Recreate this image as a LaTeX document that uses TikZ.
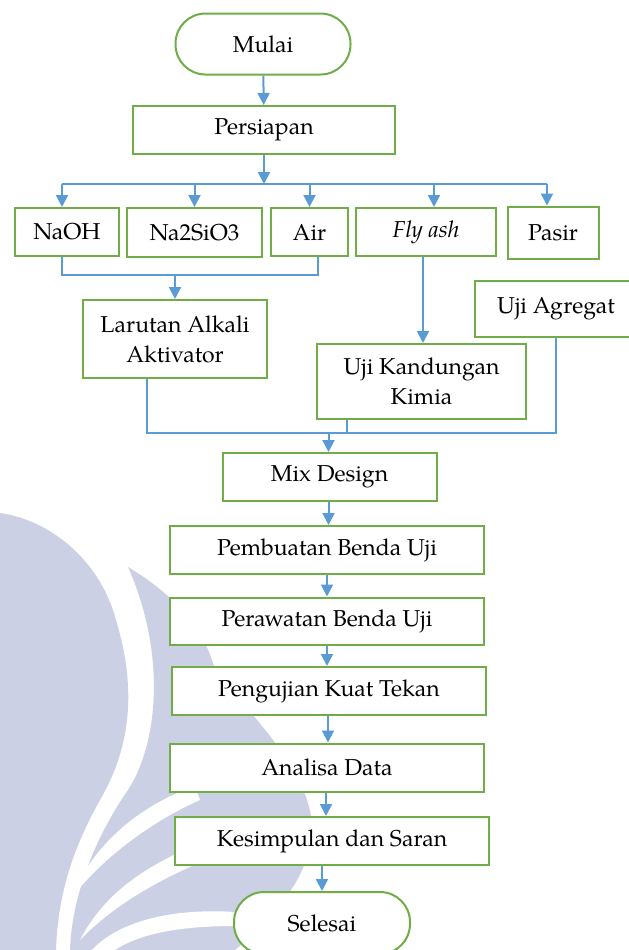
\documentclass[tikz,border=0pt]{standalone}
\usepackage{fontspec}
\setmainfont{TeX Gyre Pagella}
\usetikzlibrary{arrows.meta}
\definecolor{boxgreen}{RGB}{112,173,71}
\definecolor{lineblue}{RGB}{91,155,213}
\definecolor{wmlavender}{RGB}{204,208,228}
\tikzset{>={Triangle[width=6pt,length=6pt]}}
\tikzset{
  box/.style={draw=boxgreen, line width=1pt, fill=white, align=center, inner sep=2pt,
    font=\fontsize{11.5}{15}\selectfont},
  terminal/.style={box, rounded corners=15pt},
  flow/.style={->, draw=lineblue, line width=1pt},
  link/.style={draw=lineblue, line width=1pt}
}

\begin{document}
\begin{tikzpicture}[x=0.5pt,y=-0.5pt]
\useasboundingbox (0,0) rectangle (628,950);
% watermark
\fill[wmlavender] (0,513) .. controls (50,520) and (100,560) .. (116,620)
  .. controls (134,680) and (135,740) .. (100,800)
  .. controls (75,845) and (58,890) .. (56,950) -- (0,950) -- cycle;
\fill[wmlavender] (128,567) .. controls (175,595) and (205,630) .. (215,670)
  .. controls (260,725) and (312,775) .. (312,830)
  .. controls (310,880) and (270,920) .. (235,950) -- (70,950)
  .. controls (72,890) and (100,830) .. (128,790)
  .. controls (160,740) and (165,650) .. (128,567) -- cycle;
\fill[white] (195,786) .. controls (140,805) and (92,845) .. (70,900)
  .. controls (100,860) and (150,822) .. (200,800) -- cycle;
\fill[white] (280,818) .. controls (190,842) and (115,872) .. (80,940)
  .. controls (125,893) and (195,860) .. (282,832) -- cycle;
\fill[white] (236,912) .. controls (175,908) and (118,920) .. (90,952)
  -- (112,952) .. controls (140,932) and (185,926) .. (236,926) -- cycle;

% nodes
\node[terminal, minimum width=87.5pt, minimum height=30.5pt] (mulai) at (263,44) {Mulai};
\node[box, minimum width=131pt, minimum height=24pt] (persiapan) at (264,130) {Persiapan};
\node[box, minimum width=52pt, minimum height=24pt] (naoh) at (67,232) {NaOH};
\node[box, minimum width=67.5pt, minimum height=24.5pt] (nasio) at (194.5,232.5) {Na2SiO3};
\node[box, minimum width=38.5pt, minimum height=24pt] (air) at (309.5,232) {Air};
\node[box, minimum width=70pt, minimum height=24pt] (flyash) at (426,232) {\textit{Fly ash}};
\node[box, minimum width=45.5pt, minimum height=26pt] (pasir) at (553,232.5) {Pasir};
\node[box, minimum width=92pt, minimum height=39pt] (larutan) at (175,339) {Larutan Alkali\\Aktivator};
\node[box, minimum width=81pt, minimum height=28pt] (agregat) at (556,309) {Uji Agregat};
\node[box, minimum width=104.5pt, minimum height=37.5pt] (kimia) at (421.5,381.5) {Uji Kandungan\\Kimia};
\node[box, minimum width=107pt, minimum height=24pt] (mix) at (329.5,477) {Mix Design};
\node[box, minimum width=157pt, minimum height=24pt] (pembuatan) at (327,550) {Pembuatan Benda Uji};
\node[box, minimum width=157pt, minimum height=23.5pt] (perawatan) at (327,621) {Perawatan Benda Uji};
\node[box, minimum width=157pt, minimum height=24pt] (pengujian) at (329,691) {Pengujian Kuat Tekan};
\node[box, minimum width=157pt, minimum height=24pt] (analisa) at (327,767.5) {Analisa Data};
\node[box, minimum width=157pt, minimum height=24pt] (kesimpulan) at (332,841) {Kesimpulan dan Saran};
\node[terminal, minimum width=88pt, minimum height=31pt] (selesai) at (322,923) {Selesai};

% connectors
\coordinate (bus1) at (0,184);
\coordinate (join1) at (0,275);
\coordinate (bus2) at (0,433);
\draw[flow] (mulai) -- (persiapan);
\draw[flow] (persiapan) -- (persiapan |- bus1);
\draw[link] ([xshift=-2.5pt]naoh.north |- bus1) -- ([xshift=-3pt]pasir.north |- bus1);
\draw[flow] ([xshift=-2.5pt]naoh.north |- bus1) -- ([xshift=-2.5pt]naoh.north);
\draw[flow] (nasio |- bus1) -- (nasio);
\draw[flow] (air |- bus1) -- (air);
\draw[flow] ([xshift=4pt]flyash.north |- bus1) -- ([xshift=4pt]flyash.north);
\draw[flow] ([xshift=-3pt]pasir.north |- bus1) -- ([xshift=-3pt]pasir.north);
\draw[link] ([xshift=-2.5pt]naoh.south) -- ([xshift=-2.5pt]naoh.south |- join1)
  -- ([xshift=4pt]air.south |- join1) -- ([xshift=4pt]air.south);
\draw[flow] (larutan |- join1) -- (larutan);
\draw[flow] ([xshift=-1.5pt]flyash.south) -- ([xshift=-1.5pt]flyash.south |- kimia.north);
\draw[link] ([xshift=-14pt]larutan.south) -- ([xshift=-14pt]larutan.south |- bus2)
  -- (agregat.south |- bus2) -- (agregat.south);
\draw[link] ([xshift=-37.5pt]kimia.south) -- ([xshift=-37.5pt]kimia.south |- bus2);
\draw[flow] ([xshift=-0.5pt]mix.north |- bus2) -- ([xshift=-0.5pt]mix.north);
\draw[flow] ([xshift=-0.5pt]mix.south) -- ([xshift=-0.5pt]mix.south |- pembuatan.north);
\draw[flow] (pembuatan.south) -- (pembuatan.south |- perawatan.north);
\draw[flow] (perawatan.south) -- (perawatan.south |- pengujian.north);
\draw[flow] ([xshift=-0.5pt]pengujian.south) -- ([xshift=-0.5pt]pengujian.south |- analisa.north);
\draw[flow] ([xshift=-0.5pt]analisa.south) -- ([xshift=-0.5pt]analisa.south |- kesimpulan.north);
\draw[flow] (selesai |- kesimpulan.south) -- (selesai);
\end{tikzpicture}
\end{document}
